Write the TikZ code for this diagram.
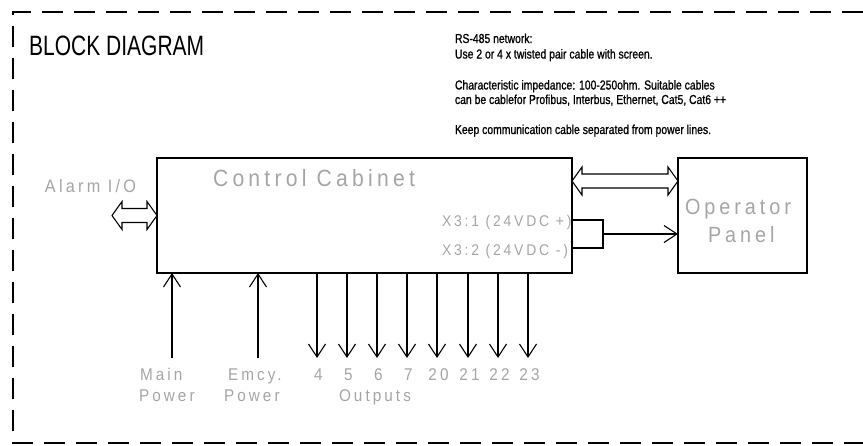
\documentclass[tikz,border=0pt]{standalone}
\usepackage{fontspec}
\setmainfont{Liberation Sans}
\usetikzlibrary{arrows.meta,calc}
\newfontfamily\titlefont[FakeStretch=0.75]{Liberation Sans}
\newfontfamily\notefont[FakeStretch=0.8,FakeBold=1]{Liberation Sans}
\newfontfamily\lblfont[LetterSpace=18,FakeStretch=0.9]{Liberation Sans}
\definecolor{lblgray}{RGB}{165,165,165}
\newcommand\hollowarrow[2]{%
  \draw[wire] (#1) -- ($(#1)+(10,-14)$) -- ($(#1)+(10,-7)$) -- ($(#2)+(-10,-7)$)
    -- ($(#2)+(-10,-14)$) -- (#2) -- ($(#2)+(-10,14)$) -- ($(#2)+(-10,7)$)
    -- ($(#1)+(10,7)$) -- ($(#1)+(10,14)$) -- cycle;}
\begin{document}
\begin{tikzpicture}[x=1pt,y=-1pt,
  blockbox/.style={draw,line width=1.2pt,inner sep=0pt,outer sep=0pt},
  lbl/.style={text=lblgray,inner sep=0pt,outer sep=0pt,font=\lblfont\fontsize{#1}{#1}\selectfont},
  note/.style={inner sep=0pt,outer sep=0pt,anchor=base west,font=\notefont\fontsize{13}{15}\selectfont},
  wire/.style={line width=1.1pt,line join=miter},
  arr/.style={wire,-{Straight Barb[length=13pt,width=17pt,line width=1.1pt]}},
  border/.style={line width=2pt,dash pattern=on 21pt off 11pt}]
\useasboundingbox (0,0) rectangle (863,445);
% dashed frame
\coordinate (ftr) at (863,12);
\coordinate (ftl) at (13,12);
\coordinate (fbl) at (13,443);
\coordinate (fbr) at (863,443);
\draw[border] (ftr) -- (ftl) -- (fbl) -- (fbr);
% title
\node[anchor=base west,inner sep=0pt,font=\titlefont\fontsize{28}{30}\selectfont] (title) at (29,55) {BLOCK DIAGRAM};
% notes
\node[note] (n1) at (455,43) {RS-485 network:};
\node[note] (n2) at (455,58.5) {Use 2 or 4 x twisted pair cable with screen.};
\node[note] (n3) at (455,89.5) {Characteristic impedance: 100-250ohm. Suitable cables};
\node[note] (n4) at (455,104) {can be cablefor Profibus, Interbus, Ethernet, Cat5, Cat6 ++};
\node[note] (n5) at (455,134) {Keep communication cable separated from power lines.};
% blocks
\node[blockbox,minimum width=415pt,minimum height=115pt] (cab) at (364.5,215.5) {};
\node[blockbox,minimum width=129pt,minimum height=115pt] (op) at (742.5,215.5) {};
\node[lbl=23.5,anchor=base west] (cabt) at (213,186) {Control Cabinet};
\node[lbl=22,anchor=base west] (opt1) at (685,214) {Operator};
\node[lbl=22,anchor=base west] (opt2) at (708,242) {Panel};
\node[lbl=15.5,anchor=base west] (x31) at (442,226) {X3:1 (24VDC +)};
\node[lbl=15.5,anchor=base west] (x32) at (442,255) {X3:2 (24VDC -)};
\node[lbl=18,anchor=base west] (alarm) at (45,192) {Alarm I/O};
% RS-485 double arrow
\coordinate (ta1) at ($(cab.north east)+(0,23)$);
\coordinate (ta2) at (op.west |- ta1);
\hollowarrow{ta1}{ta2}
% Alarm I/O double arrow
\coordinate (aa1) at ($(cab.west)+(-45,0)$);
\hollowarrow{aa1}{cab.west}
% 24VDC supply
\coordinate (p1) at ($(cab.north east)+(0,62)$);
\coordinate (p2) at ($(cab.north east)+(0,90)$);
\coordinate (pj) at ($(p1)+(31,0)$);
\coordinate (pm) at ($(pj)!0.5!(pj |- p2)$);
\draw[wire] (p1) -- (pj) -- (pj |- p2) -- (p2);
\draw[arr] (pm) -- (op.west |- pm);
\fill ($(cab.north east)+(0,84)$) circle (1.4pt);
% power inputs
\coordinate (mp) at (172,358);
\coordinate (ep) at (258,358);
\draw[arr] (mp) -- (mp |- cab.south);
\draw[arr] (ep) -- (ep |- cab.south);
\node[lbl=17,anchor=base west] (mpt1) at (140,380) {Main};
\node[lbl=17,anchor=base west] (mpt2) at (139,401) {Power};
\node[lbl=17,anchor=base west] (ept1) at (228,380) {Emcy.};
\node[lbl=17,anchor=base west] (ept2) at (224,401) {Power};
% outputs
\foreach \x/\n in {317/4,347/5,377/6,407/7,437/20,468/21,498/22,528/23}{
  \coordinate (o\n) at (\x,358);
  \draw[arr] (o\n |- cab.south) -- (o\n);
  \node[lbl=17,anchor=base] (ot\n) at (\x+1.5,380) {\n};
}
\node[lbl=17,anchor=base west] (outt) at (339,401) {Outputs};
\end{tikzpicture}
\end{document}
